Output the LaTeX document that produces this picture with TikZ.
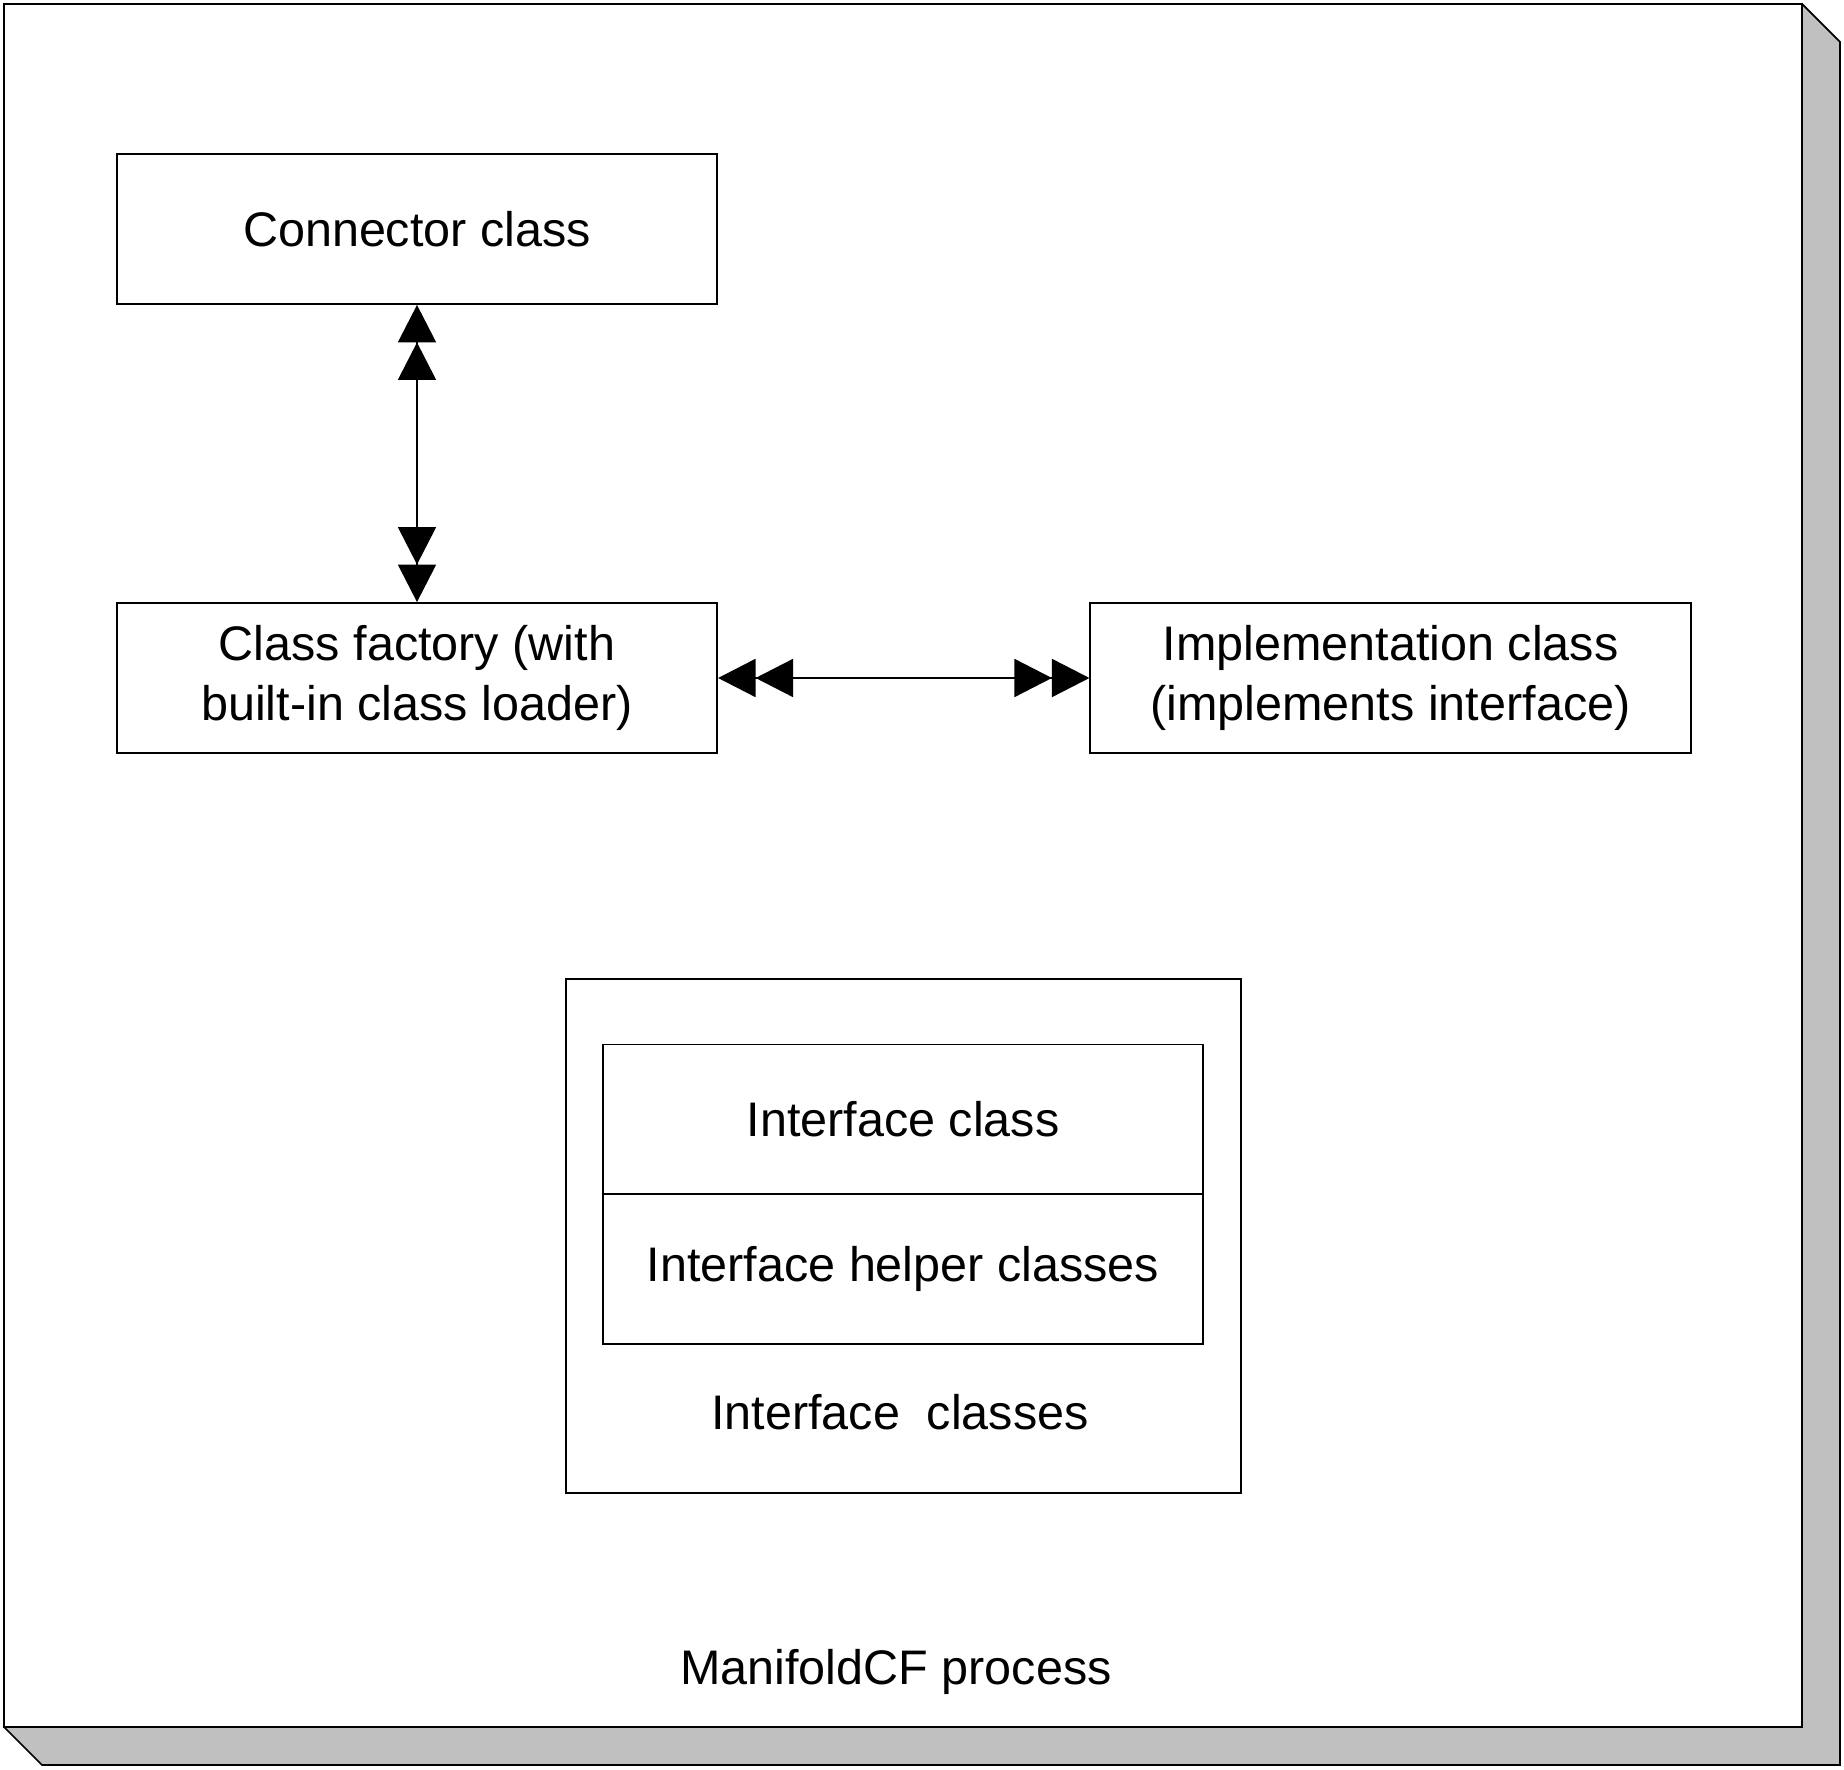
\documentclass[tikz,border=0pt]{standalone}
\usepackage{fontspec}
\setmainfont{Liberation Sans}
\usetikzlibrary{arrows.meta}
\definecolor{shadowgray}{RGB}{192,192,192}
\tikzset{
  cls/.style={draw, fill=white, minimum width=6cm, minimum height=1.5cm, align=center, inner sep=0pt},
  dbltri/.tip={Triangle[length=3.75mm,width=3.8mm,sep=0pt]Triangle[length=3.75mm,width=3.8mm]},
}
\begin{document}
\begin{tikzpicture}[x=0.01cm,y=-0.01cm,line width=0.5pt,font=\fontsize{13.8}{17.3}\selectfont]
		\useasboundingbox (0,0) rectangle (1844,1770);
		% process box with its shadow
		\filldraw[fill=shadowgray] (1802,4) -- (1840,42) -- (1840,1765) -- (42,1765) -- (4,1727) -- cycle;
		\filldraw[fill=white] (4,4) rectangle (1802,1727);
		\node at (896,1672) (proc) {ManifoldCF process};
		% classes
		\node[cls] at (417,229) (conn) {Connector class};
		\node[cls] at (417,678) (factory) {Class factory (with\\built-in class loader)};
		\node[cls] at (1390.5,678) (impl) {Implementation class\\(implements interface)};
		\node[draw, minimum width=6.75cm, minimum height=5.14cm] at (903.5,1236) (iface) {};
		\node[cls] at (903,1119.5) (iclass) {Interface class};
		\node[cls] at (903,1269) (ihelper) {Interface helper classes};
		\node at (900,1412) (ilabel) {Interface\ \ classes};
		% connectors
		\draw[dbltri-dbltri] (conn) -- (factory);
		\draw[dbltri-dbltri] (factory) -- (impl);
		\end{tikzpicture}
\end{document}
